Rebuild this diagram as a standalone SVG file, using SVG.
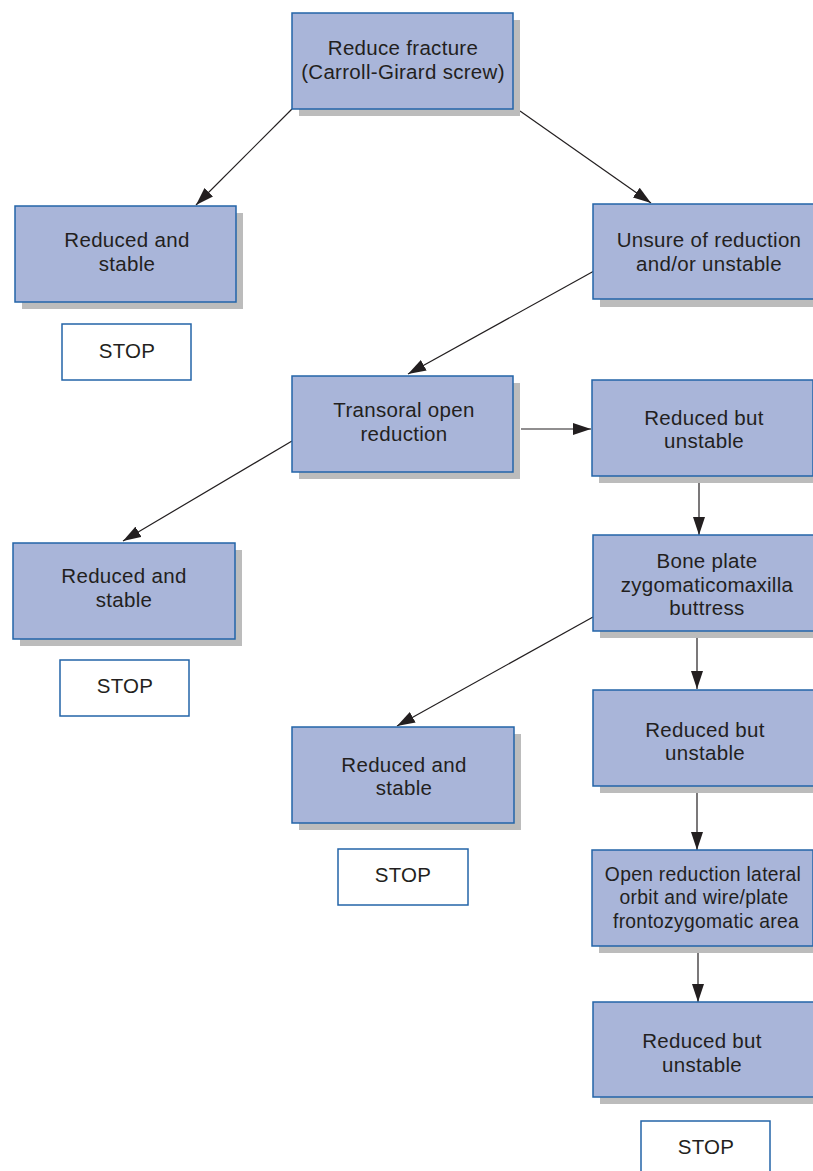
<svg xmlns="http://www.w3.org/2000/svg" width="813" height="1171" viewBox="0 0 813 1171">
<defs>
<marker id="ah" markerWidth="18" markerHeight="12" refX="18" refY="6" orient="auto" markerUnits="userSpaceOnUse">
<path d="M0,0 L18,6 L0,12 Z" fill="#231f20"/>
</marker>
<style>
.sh{fill:#bcbcbc}
.bx{fill:#a9b5d9;stroke:#2364a8;stroke-width:1.5}
.st{fill:#ffffff;stroke:#2364a8;stroke-width:1.5}
text{font-family:"Liberation Sans",Arial,sans-serif;font-size:20.5px;letter-spacing:0.3px;fill:#231f20;text-anchor:middle}
.sm{font-size:19.3px}
.c{stroke:#231f20;stroke-width:1.2;fill:none;marker-end:url(#ah)}
</style>
</defs>
<rect width="813" height="1171" fill="#ffffff"/>
<g id="connectors">
<line class="c" x1="292" y1="109" x2="196" y2="205"/>
<line class="c" x1="520" y1="111" x2="651" y2="203"/>
<line class="c" x1="594" y1="271" x2="408" y2="374"/>
<line class="c" x1="292" y1="441" x2="123" y2="541"/>
<line class="c" x1="521" y1="429" x2="591" y2="429"/>
<line class="c" x1="699" y1="482" x2="699" y2="535"/>
<line class="c" x1="593" y1="617" x2="397" y2="726"/>
<line class="c" x1="697" y1="637" x2="697" y2="689"/>
<line class="c" x1="697" y1="792" x2="697" y2="850"/>
<line class="c" x1="698" y1="953" x2="698" y2="1002"/>
</g>
<g id="n1"><rect class="sh" x="299" y="20" width="221" height="96"/><rect class="bx" x="292" y="13" width="221" height="96"/><text x="403" y="55">Reduce fracture</text><text x="403" y="79">(Carroll-Girard screw)</text></g>
<g id="n2"><rect class="sh" x="22" y="213" width="221" height="96"/><rect class="bx" x="15" y="206" width="221" height="96"/><text x="127" y="247">Reduced and</text><text x="127" y="271">stable</text></g>
<g id="n3"><rect class="st" x="62" y="324" width="129" height="56"/><text x="127" y="358">STOP</text></g>
<g id="n4"><rect class="sh" x="600" y="211" width="221" height="96"/><rect class="bx" x="593" y="204" width="221" height="95"/><text x="709" y="247">Unsure of reduction</text><text x="709" y="271">and/or unstable</text></g>
<g id="n5"><rect class="sh" x="299" y="383" width="221" height="96"/><rect class="bx" x="292" y="376" width="221" height="96"/><text x="404" y="417">Transoral open</text><text x="404" y="441">reduction</text></g>
<g id="n6"><rect class="sh" x="599" y="387" width="221" height="96"/><rect class="bx" x="592" y="380" width="221" height="96"/><text x="704" y="425">Reduced but</text><text x="704" y="448">unstable</text></g>
<g id="n7"><rect class="sh" x="20" y="550" width="222" height="96"/><rect class="bx" x="13" y="543" width="222" height="96"/><text x="124" y="583">Reduced and</text><text x="124" y="607">stable</text></g>
<g id="n8"><rect class="st" x="60" y="660" width="129" height="56"/><text x="125" y="693">STOP</text></g>
<g id="n9"><rect class="sh" x="600" y="542" width="221" height="96"/><rect class="bx" x="593" y="535" width="221" height="96"/><text x="707" y="568">Bone plate</text><text x="707" y="592">zygomaticomaxilla</text><text x="707" y="615">buttress</text></g>
<g id="n10"><rect class="sh" x="299" y="734" width="222" height="96"/><rect class="bx" x="292" y="727" width="222" height="96"/><text x="404" y="772">Reduced and</text><text x="404" y="795">stable</text></g>
<g id="n11"><rect class="st" x="338" y="849" width="130" height="56"/><text x="403" y="882">STOP</text></g>
<g id="n12"><rect class="sh" x="600" y="697" width="221" height="96"/><rect class="bx" x="593" y="690" width="221" height="96"/><text x="705" y="737">Reduced but</text><text x="705" y="760">unstable</text></g>
<g id="n13"><rect class="sh" x="599" y="857" width="221" height="96"/><rect class="bx" x="592" y="850" width="221" height="96"/><text class="sm" x="703" y="881">Open reduction lateral</text><text class="sm" x="704" y="904">orbit and wire/plate</text><text class="sm" x="706" y="928">frontozygomatic area</text></g>
<g id="n14"><rect class="sh" x="600" y="1009" width="221" height="95"/><rect class="bx" x="593" y="1002" width="221" height="95"/><text x="702" y="1048">Reduced but</text><text x="702" y="1072">unstable</text></g>
<g id="n15"><rect class="st" x="641" y="1121" width="129" height="60"/><text x="706" y="1154">STOP</text></g>
</svg>
